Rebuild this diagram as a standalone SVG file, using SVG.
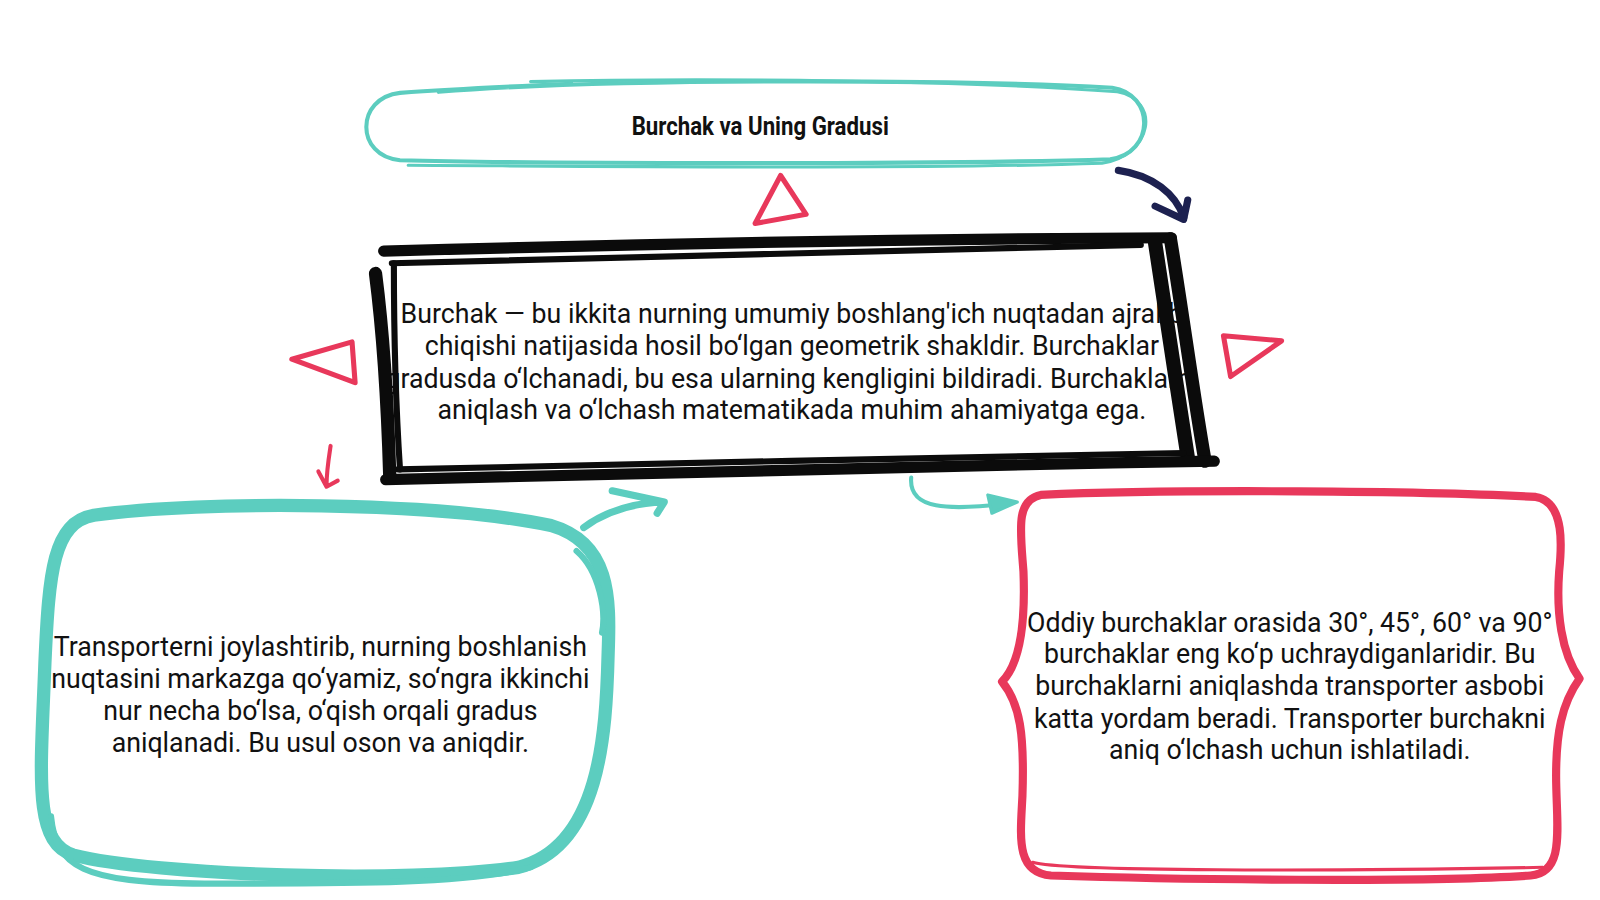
<svg xmlns="http://www.w3.org/2000/svg" width="1600" height="900" viewBox="0 0 1600 900">
<style>
.t{font-family:Roboto,"Liberation Sans",sans-serif;font-size:26.2px;fill:#111;text-anchor:middle}
.teal{fill:none;stroke:#5ccdbf;stroke-linecap:round;stroke-linejoin:round}
.pink{fill:none;stroke:#e8385b;stroke-linecap:round;stroke-linejoin:round}
.blk{fill:none;stroke:#0b0b0b;stroke-linecap:round;stroke-linejoin:round}
.navy{fill:none;stroke:#1d2150;stroke-linecap:round;stroke-linejoin:round}
</style>
<rect width="1600" height="900" fill="#fff"/>
<g transform="scale(1.0204)">
<g id="title">
<path class="teal" stroke-width="4" d="M430,90 C600,76 950,78 1090,86 C1132,92 1132,150 1088,156 C900,162 500,160 392,157 C348,153 348,96 392,91 C460,86 520,84 560,82"/>
<path class="teal" stroke-width="3" d="M520,80 C700,76 950,79 1095,90 C1138,98 1130,152 1080,160 C900,166 600,163 400,162"/>
<text x="745" y="132" font-family="Roboto,'Liberation Sans',sans-serif" font-size="26" font-weight="bold" fill="#111" text-anchor="middle" textLength="252" lengthAdjust="spacingAndGlyphs">Burchak va Uning Gradusi</text>
</g>
<g id="main">
<text class="t"><tspan x="776" y="317">Burchak — bu ikkita nurning umumiy boshlang'ich nuqtadan ajralib</tspan><tspan x="776" y="348">chiqishi natijasida hosil bo‘lgan geometrik shakldir. Burchaklar</tspan><tspan x="776" y="380">gradusda o‘lchanadi, bu esa ularning kengligini bildiradi. Burchaklarni</tspan><tspan x="776" y="411">aniqlash va o‘lchash matematikada muhim ahamiyatga ega.</tspan></text>
<path class="blk" stroke-width="11" d="M376,246 C600,240 900,234 1148,233"/>
<path class="blk" stroke-width="6" d="M384,258 C600,252 900,246 1118,240"/>
<path class="blk" stroke-width="14" d="M1132,238 C1142,300 1153,380 1164,448"/>
<path class="blk" stroke-width="13" d="M1147,234 C1158,300 1170,390 1181,452"/>
<path class="blk" stroke-width="11" d="M378,470 C600,464 900,456 1190,452"/>
<path class="blk" stroke-width="6" d="M390,460 C650,455 900,448 1160,444"/>
<path class="blk" stroke-width="13" d="M368,268 C376,330 380,400 382,468"/>
<path class="blk" stroke-width="6" d="M386,258 C386,330 388,400 392,460"/>
</g>
<g id="left">
<path class="teal" stroke-width="13" d="M92,505 C200,490 430,492 540,515 C598,532 598,585 596,640 C594,720 588,830 508,850 C400,866 150,858 72,838 C32,826 40,760 44,650 C48,560 52,512 92,505 Z"/>
<path class="teal" stroke-width="6" d="M50,800 C55,850 80,865 200,866 C350,866 460,866 520,850 M565,540 C588,560 594,600 590,620"/>
<text class="t"><tspan x="314" y="643">Transporterni joylashtirib, nurning boshlanish</tspan><tspan x="314" y="674">nuqtasini markazga qo‘yamiz, so‘ngra ikkinchi</tspan><tspan x="314" y="706">nur necha bo‘lsa, o‘qish orqali gradus</tspan><tspan x="314" y="737">aniqlanadi. Bu usul oson va aniqdir.</tspan></text>
</g>
<g id="right">
<path class="pink" stroke-width="8" d="M1020,485 C1150,479 1400,481 1505,487 C1535,492 1530,540 1528,560 C1525,600 1530,640 1548,665 C1530,690 1525,720 1525,760 C1525,810 1535,855 1500,858 C1400,865 1150,862 1030,858 C995,855 1000,820 1002,780 C1004,720 1000,690 982,668 C1000,650 1005,610 1003,560 C1000,520 995,490 1020,485 Z"/>
<path class="pink" stroke-width="3" d="M1012,845 C1040,854 1300,854 1512,850"/>
<text class="t"><tspan x="1264" y="619">Oddiy burchaklar orasida 30°, 45°, 60° va 90°</tspan><tspan x="1264" y="650">burchaklar eng ko‘p uchraydiganlaridir. Bu</tspan><tspan x="1264" y="681">burchaklarni aniqlashda transporter asbobi</tspan><tspan x="1264" y="713">katta yordam beradi. Transporter burchakni</tspan><tspan x="1264" y="744">aniq o‘lchash uchun ishlatiladi.</tspan></text>
</g>
<g id="connectors">
<path class="pink" stroke-width="5" d="M765,172 L790,210 L740,219 Z"/>
<path class="pink" stroke-width="5" d="M286,352 L345,335 L348,375 Z"/>
<path class="pink" stroke-width="5" d="M1199,329 L1256,334 L1206,369 Z"/>
<path class="navy" stroke-width="7" d="M1096,167 C1130,172 1152,190 1160,213"/>
<path class="navy" stroke-width="7" d="M1132,202 L1160,215 L1164,196"/>
<path class="pink" stroke-width="4" d="M324,437 C322,450 320,462 320,476 M312,462 L320,477 L331,471"/>
<path class="teal" stroke-width="7" d="M572,517 C595,500 620,493 650,492 M600,481 L651,492 L644,503"/>
<path class="teal" stroke-width="4" d="M893,468 C890,500 930,500 985,494"/>
<path fill="#5ccdbf" stroke="#5ccdbf" stroke-width="3" stroke-linejoin="round" d="M968,485 L997,492 L972,503 Z"/>
</g>
</g>
</svg>
